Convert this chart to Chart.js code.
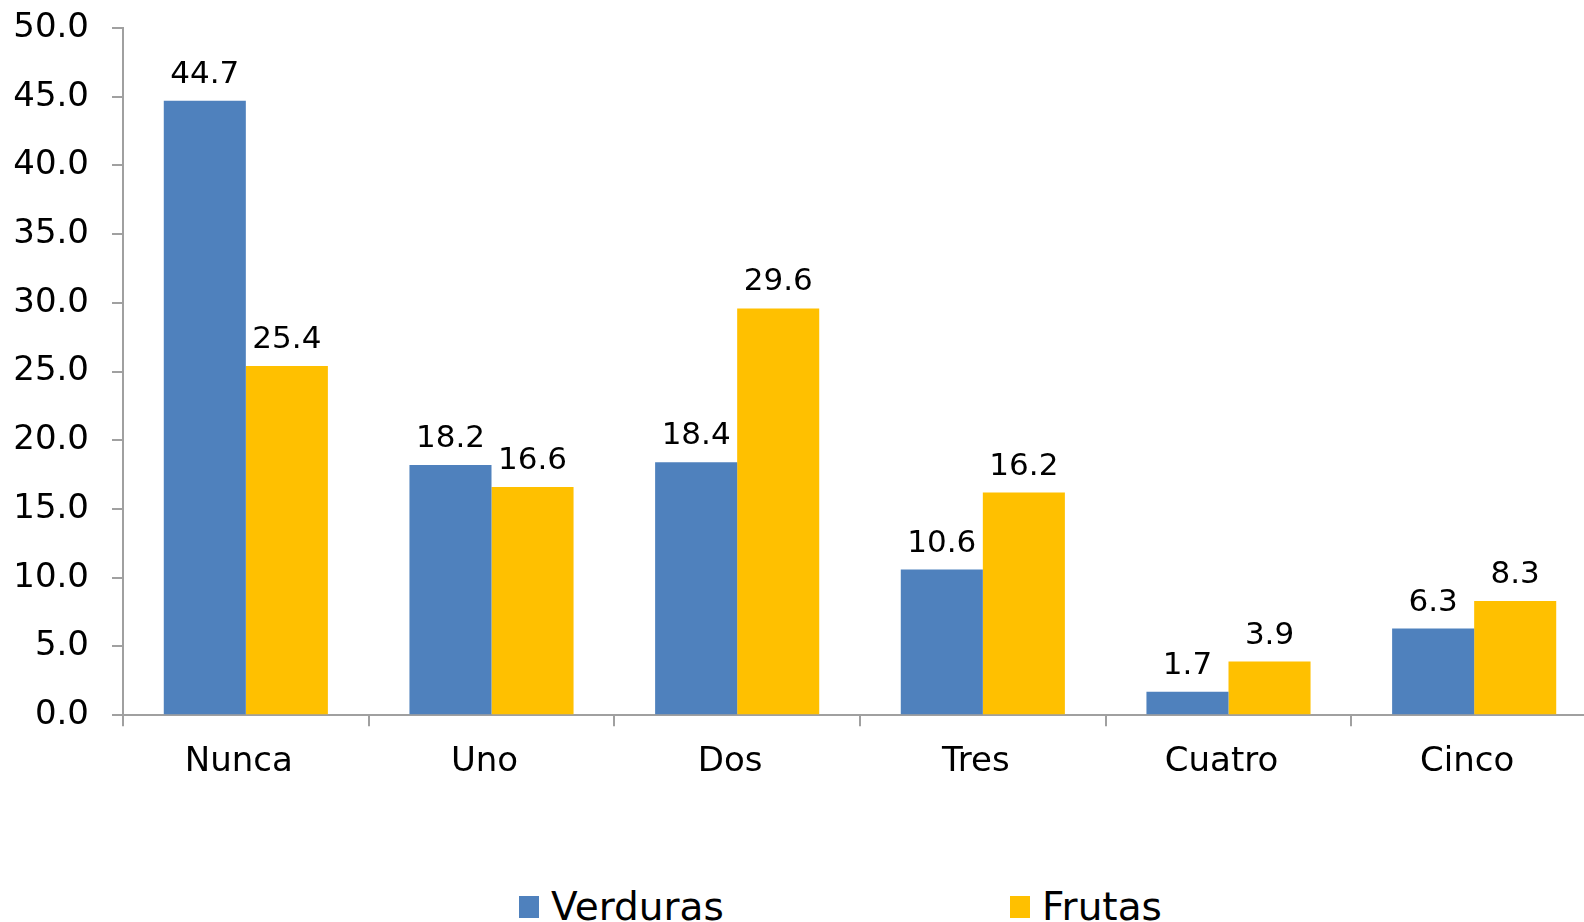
<!DOCTYPE html>
<html lang="es">
<head>
<meta charset="UTF-8">
<script src="https://cdn.jsdelivr.net/npm/chart.js"></script>
<style>
  * { margin: 0; padding: 0; }
  body { background: #fff; width: 1584px; height: 922px; overflow: hidden; position: relative; }
  #wrap { position: absolute; left: 0; top: 0; width: 1600px; height: 800px; }
  #legend { position: absolute; left: 0; top: 884px; width: 1584px; font-family: "DejaVu Sans", Verdana, sans-serif; font-size: 39px; color: #000; }
  .item { position: absolute; top: 0; white-space: nowrap; }
  .box { display: inline-block; width: 20px; height: 22px; margin-right: 12px; vertical-align: 2px; }
</style>
</head>
<body>
<div id="wrap"><canvas id="myChart" width="1600" height="800"></canvas></div>
<div id="legend"></div>
<script>
const categories = ['Nunca', 'Uno', 'Dos', 'Tres', 'Cuatro', 'Cinco'];
const verduras = [44.7, 18.2, 18.4, 10.6, 1.7, 6.3];
const frutas = [25.4, 16.6, 29.6, 16.2, 3.9, 8.3];
const seriesNames = ['Verduras', 'Frutas'];
const seriesColors = ['#4F81BD', '#FFC000'];

const FONT = '"DejaVu Sans", Verdana, sans-serif';

// value labels above bars
const barLabels = {
  id: 'barLabels',
  afterDatasetsDraw(chart) {
    const ctx = chart.ctx;
    ctx.save();
    ctx.font = '31px ' + FONT;
    ctx.fillStyle = '#000';
    ctx.textAlign = 'center';
    ctx.textBaseline = 'alphabetic';
    chart.data.datasets.forEach((ds, i) => {
      chart.getDatasetMeta(i).data.forEach((bar, j) => {
        ctx.fillText(ds.data[j].toFixed(1), bar.x, bar.y - 18);
      });
    });
    ctx.restore();
  }
};

new Chart(document.getElementById('myChart'), {
  type: 'bar',
  data: {
    labels: categories,
    datasets: [
      { label: seriesNames[0], data: verduras, backgroundColor: seriesColors[0] },
      { label: seriesNames[1], data: frutas, backgroundColor: seriesColors[1] }
    ]
  },
  plugins: [barLabels],
  options: {
    responsive: false,
    animation: false,
    layout: { padding: { top: 28, right: 3, left: 0, bottom: 1 } },
    datasets: { bar: { categoryPercentage: 0.668, barPercentage: 1.0 } },
    plugins: { legend: { display: false }, tooltip: { enabled: false } },
    scales: {
      x: {
        offset: true,
        grid: { offset: true, drawOnChartArea: false, drawTicks: true, tickLength: 11, color: '#a0a0a0', lineWidth: 2 },
        border: { color: '#a0a0a0', width: 2 },
        ticks: { color: '#000', font: { family: FONT, size: 34 }, padding: 16, labelOffset: -7 }
      },
      y: {
        min: 0,
        max: 50,
        afterFit(s) { s.width = 123; s.paddingTop = 0; s.paddingBottom = 0; },
        grid: { drawOnChartArea: false, drawTicks: true, tickLength: 11, color: '#a0a0a0', lineWidth: 2 },
        border: { color: '#a0a0a0', width: 2 },
        ticks: {
          stepSize: 5,
          color: '#000',
          font: { family: FONT, size: 34 },
          padding: 23,
          callback: (v) => v.toFixed(1)
        }
      }
    }
  }
});

// legend spaced like the original
const legend = document.getElementById('legend');
const legendX = [519, 1010];
seriesNames.forEach((name, i) => {
  const it = document.createElement('div');
  it.className = 'item';
  it.style.left = legendX[i] + 'px';
  it.innerHTML = '<span class="box" style="background:' + seriesColors[i] + '"></span>' + name;
  legend.appendChild(it);
});
</script>
</body>
</html>
